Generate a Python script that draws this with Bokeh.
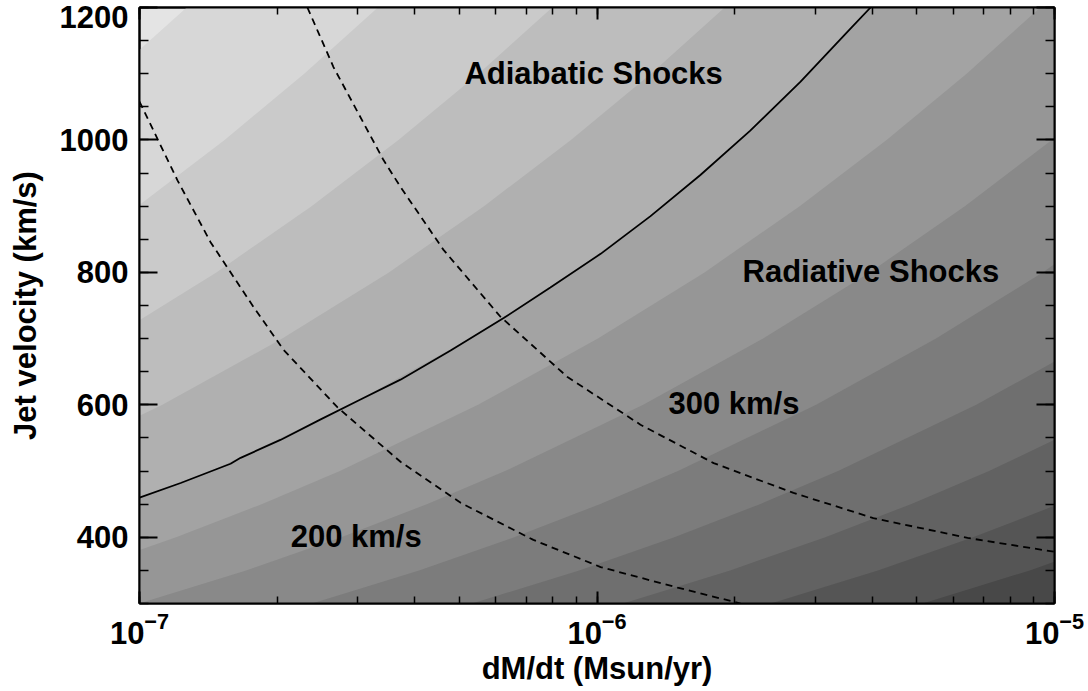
from bokeh.plotting import figure
from bokeh.models import (LogAxis, LinearAxis, Label, LogTicker, FixedTicker,
                          Range1d, CustomJSTickFormatter)
from bokeh.embed import file_html
from bokeh.resources import INLINE

# ---------------- data ----------------
# jet velocity levels (km/s) at which each band edge was read
V_GRID = [300, 350, 400, 450, 500, 600, 700, 800, 900, 1000, 1100, 1200]

# log10(dM/dt) of each shaded-band edge at the V_GRID velocities (upper-left -> lower-right)
EDGE_01 = [-9.228, -8.993, -8.786, -8.598, -8.428, -8.126, -7.863, -7.631, -7.422, -7.232, -7.058, -6.897]
EDGE_02 = [-8.810, -8.575, -8.368, -8.180, -8.010, -7.708, -7.445, -7.213, -7.004, -6.814, -6.640, -6.479]
EDGE_03 = [-8.429, -8.195, -7.987, -7.800, -7.629, -7.327, -7.065, -6.832, -6.624, -6.434, -6.259, -6.098]
EDGE_04 = [-8.052, -7.818, -7.610, -7.423, -7.252, -6.950, -6.688, -6.455, -6.247, -6.057, -5.882, -5.721]
EDGE_05 = [-7.663, -7.429, -7.221, -7.034, -6.843, -6.540, -6.278, -6.052, -5.857, -5.687, -5.539, -5.402]
EDGE_06 = [-7.362, -7.128, -6.920, -6.733, -6.562, -6.260, -5.998, -5.765, -5.557, -5.367, -5.192, -5.031]
EDGE_07 = [-7.001, -6.767, -6.559, -6.372, -6.201, -5.899, -5.637, -5.404, -5.196, -5.006, -4.831, -4.670]
EDGE_08 = [-6.623, -6.389, -6.181, -5.994, -5.823, -5.521, -5.259, -5.026, -4.818, -4.628, -4.453, -4.292]
EDGE_09 = [-6.273, -6.039, -5.831, -5.644, -5.473, -5.171, -4.909, -4.676, -4.468, -4.278, -4.103, -3.942]
EDGE_10 = [-5.943, -5.709, -5.501, -5.314, -5.143, -4.841, -4.579, -4.346, -4.138, -3.948, -3.773, -3.612]
EDGE_11 = [-5.620, -5.386, -5.178, -4.991, -4.820, -4.518, -4.256, -4.023, -3.815, -3.625, -3.450, -3.289]
EDGE_12 = [-5.288, -5.054, -4.846, -4.659, -4.488, -4.186, -3.924, -3.691, -3.483, -3.293, -3.118, -2.957]

BAND_GRAYS = ["#e4e4e4", "#d7d7d7", "#cacaca", "#bdbdbd", "#b0b0b0", "#a3a3a3", "#969696",
              "#898989", "#7c7c7c", "#6f6f6f", "#626262", "#555555", "#484848"]

# solid line: adiabatic / radiative boundary
SOLID_LOGMDOT = [-7.000, -6.910, -6.801, -6.779, -6.692, -6.604, -6.517, -6.4295, -6.320,
                 -6.204, -6.102, -5.992, -5.883, -5.774, -5.665, -5.555, -5.446, -5.402]
SOLID_V = [460, 482, 511, 520, 547, 578, 608, 638, 682, 731, 777, 828, 885, 947, 1014, 1088, 1168, 1200]

# dashed line: 200 km/s shocks
SHOCK200_LOGMDOT = [-7.000, -6.917, -6.845, -6.751, -6.685, -6.567, -6.4295, -6.298, -6.139, -5.992, -5.824, -5.686]
SHOCK200_V = [1058, 939, 846, 748, 683, 596, 514, 452, 396, 355, 324, 300]

# dashed line: 300 km/s shocks
SHOCK300_LOGMDOT = [-6.633, -6.576, -6.467, -6.4295, -6.3355, -6.211, -6.0645, -5.905, -5.745, -5.5705, -5.396, -5.190, -5.000]
SHOCK300_V = [1200, 1110, 970, 929, 834, 733, 642, 570, 512, 467, 429, 399, 378]

Y_TICKS = [400, 600, 800, 1000, 1200]
Y_TICK_LABELS = ["400", "600", "800", "1000", "1200"]
Y_MINOR = list(range(300, 1201, 50))

FONT = "Liberation Sans"
TXT = dict(text_font=FONT, text_font_style="bold", text_font_size="31px", text_color="black")

# ---------------- figure ----------------
p = figure(x_axis_type="log", x_range=Range1d(1e-7, 1e-5), y_range=Range1d(300, 1200),
           frame_width=915, frame_height=596,
           min_border_left=139, min_border_right=30, min_border_top=7, min_border_bottom=84,
           output_backend="svg", toolbar_location=None)
p.background_fill_color = BAND_GRAYS[0]
p.border_fill_color = "white"
p.outline_line_color = "black"
p.outline_line_width = 2
p.grid.visible = False

edges = [EDGE_01, EDGE_02, EDGE_03, EDGE_04, EDGE_05, EDGE_06,
         EDGE_07, EDGE_08, EDGE_09, EDGE_10, EDGE_11, EDGE_12]
for k, edge in enumerate(edges):
    xs = [10 ** L for L in edge] + [1e-2, 1e-2]
    ys = list(V_GRID) + [V_GRID[-1], V_GRID[0]]
    p.patch(xs, ys, fill_color=BAND_GRAYS[k + 1], line_color=None)

p.line([10 ** L for L in SOLID_LOGMDOT], SOLID_V, line_color="black", line_width=1.8)
p.line([10 ** L for L in SHOCK200_LOGMDOT], SHOCK200_V, line_color="black", line_width=1.8,
       line_dash="7 5")
p.line([10 ** L for L in SHOCK300_LOGMDOT], SHOCK300_V, line_color="black", line_width=1.8,
       line_dash="7 5")


def style_axis(ax, major_len, minor_len):
    ax.major_tick_in = major_len
    ax.major_tick_out = 0
    ax.minor_tick_in = minor_len
    ax.minor_tick_out = 0
    ax.axis_line_width = 2
    ax.major_tick_line_width = 2
    ax.minor_tick_line_width = 1.5
    ax.axis_line_color = "black"
    ax.major_tick_line_color = "black"
    ax.minor_tick_line_color = "black"


def label_style(ax):
    ax.major_label_text_font = FONT
    ax.major_label_text_font_style = "bold"
    ax.major_label_text_font_size = "31px"
    ax.major_label_text_color = "black"
    ax.axis_label_text_font = FONT
    ax.axis_label_text_font_style = "bold"
    ax.axis_label_text_font_size = "31px"
    ax.axis_label_text_color = "black"


# bottom x axis (log, 10^n labels)
xa = p.xaxis[0]
xa.ticker = LogTicker(num_minor_ticks=10)
xa.major_label_standoff = 8
xa.axis_label = "dM/dt (Msun/yr)"
xa.axis_label_standoff = 4
label_style(xa)
style_axis(xa, 12, 7)

# top mirror
xt = LogAxis(ticker=LogTicker(num_minor_ticks=10), formatter=CustomJSTickFormatter(code="return ''"),
             major_label_standoff=0)
style_axis(xt, 12, 7)
p.add_layout(xt, "above")

# left y axis: tick marks only (labels are drawn by the next axis)
ya = p.yaxis[0]
ya.ticker = FixedTicker(ticks=Y_TICKS, minor_ticks=Y_MINOR)
ya.formatter = CustomJSTickFormatter(code="return ''")
ya.major_label_standoff = 0
style_axis(ya, 18, 9)

# label axis: the top label ("1200") is printed ~10 px below its tick, as in the reference
label_pos = Y_TICKS[:-1] + [1185]
yl = LinearAxis(ticker=FixedTicker(ticks=label_pos, minor_ticks=[]),
                major_label_overrides={pos: lab for pos, lab in zip(label_pos, Y_TICK_LABELS)},
                major_label_standoff=11, axis_label="Jet velocity (km/s)", axis_label_standoff=14,
                major_tick_in=0, major_tick_out=0, minor_tick_in=0, minor_tick_out=0)
label_style(yl)
yl.axis_line_color = None
yl.major_tick_line_color = None
yl.minor_tick_line_color = None
p.add_layout(yl, "left")

# right mirror
yr = LinearAxis(ticker=FixedTicker(ticks=Y_TICKS, minor_ticks=Y_MINOR),
                formatter=CustomJSTickFormatter(code="return ''"), major_label_standoff=0)
style_axis(yr, 18, 9)
p.add_layout(yr, "right")

# annotations
for txt, xv, yv in [("Adiabatic Shocks", 5.13e-7, 1101), ("Radiative Shocks", 2.08e-6, 801),
                    ("300 km/s", 1.433e-6, 601.5), ("200 km/s", 2.14e-7, 401)]:
    p.add_layout(Label(x=xv, y=yv, text=txt, text_align="left", text_baseline="alphabetic", **TXT))

open("out.html", "w").write(file_html(p, INLINE))
